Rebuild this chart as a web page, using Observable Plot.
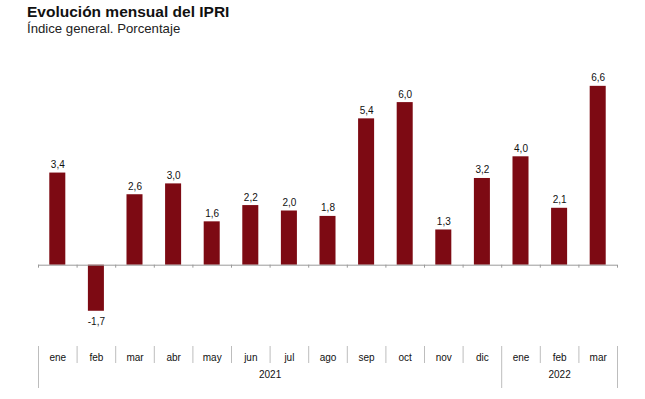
<!DOCTYPE html>
<html>
<head>
<meta charset="utf-8">
<script src="https://cdn.jsdelivr.net/npm/d3@7"></script>
<script src="https://cdn.jsdelivr.net/npm/@observablehq/plot@0.6"></script>
<style>
  html, body { margin: 0; padding: 0; background: #fff; }
  body { width: 645px; height: 399px; overflow: hidden; font-family: "Liberation Sans", Arial, sans-serif; }
  #title { position: absolute; left: 27px; top: 3px; font-size: 15.5px; font-weight: bold; color: #111; line-height: 18px; }
  #subtitle { position: absolute; left: 27px; top: 20px; font-size: 13.2px; color: #222; line-height: 18px; }
  #chart { position: absolute; left: 0; top: 40px; }
</style>
</head>
<body>
<div id="title">Evolución mensual del IPRI</div>
<div id="subtitle">Índice general. Porcentaje</div>
<div id="chart"></div>
<script>
const months = ["ene","feb","mar","abr","may","jun","jul","ago","sep","oct","nov","dic","ene","feb","mar"];
const years  = ["2021","2021","2021","2021","2021","2021","2021","2021","2021","2021","2021","2021","2022","2022","2022"];
const values = [3.4, -1.7, 2.6, 3.0, 1.6, 2.2, 2.0, 1.8, 5.4, 6.0, 1.3, 3.2, 4.0, 2.1, 6.6];
const yearLabels = ["2021", "2022"];

const data = months.map((m, i) => ({key: `${years[i]}-${m}`, month: m, year: years[i], value: values[i]}));
const keys = data.map(d => d.key);
const yearStarts = yearLabels.map(y => keys.find(k => k.startsWith(y)));
const lastKey = keys[keys.length - 1];
// key at the middle of each year group (for even groups the label sits on the band's left edge)
const yearMid = yearLabels.map(y => {
  const ks = keys.filter(k => k.startsWith(y));
  const n = ks.length;
  return {year: y, key: ks[Math.floor(n / 2)], even: n % 2 === 0};
});

const W = 645, H = 359, ML = 38, MR = 28, MT = 35, MB = 53;
const step = (W - ML - MR) / keys.length;
const fmt = v => (v < 0 ? "-" : "") + Math.abs(v).toFixed(1).replace(".", ",");
const red = "#7d0a13";
const grey = "#9a9a9a";
const sep = "#bdbdbd";
const fnt = "Liberation Sans, Arial, sans-serif";

const chart = Plot.plot({
  width: W, height: H,
  marginLeft: ML, marginRight: MR, marginTop: MT, marginBottom: MB,
  style: {fontFamily: fnt, fontSize: "10px", color: "#111", background: "white"},
  x: {domain: keys, paddingInner: 0.585, paddingOuter: 0.2925, round: false, axis: null, label: null},
  y: {domain: [-3, 7], axis: null},
  marks: [
    Plot.barY(data, {x: "key", y: "value", fill: red}),
    Plot.ruleY([0], {stroke: grey, strokeWidth: 1}),
    // small ticks on the zero line at category boundaries
    Plot.ruleX(keys, {x: d => d, y1: 0, y2: -0.11, dx: -step / 2, stroke: grey}),
    Plot.ruleX([lastKey], {x: d => d, y1: 0, y2: -0.11, dx: step / 2, stroke: grey}),
    // value labels
    Plot.text(data.filter(d => d.value >= 0), {x: "key", y: "value", text: d => fmt(d.value), lineAnchor: "bottom", dy: -5, fill: "#111"}),
    Plot.text(data.filter(d => d.value < 0), {x: "key", y: "value", text: d => fmt(d.value), lineAnchor: "top", dy: 7, fill: "#111"}),
    // month separators
    Plot.axisX(keys.filter(k => !yearStarts.includes(k)), {anchor: "bottom", label: null, tickSize: 17, tickFormat: () => "", dx: -step / 2, stroke: sep}),
    // year separators
    Plot.axisX(yearStarts, {anchor: "bottom", label: null, tickSize: 42, tickFormat: () => "", dx: -step / 2, stroke: sep}),
    Plot.axisX([lastKey], {anchor: "bottom", label: null, tickSize: 42, tickFormat: () => "", dx: step / 2, stroke: sep}),
    // month labels
    Plot.text(data, {x: "key", frameAnchor: "bottom", text: "month", lineAnchor: "middle", dy: 11.5, fill: "#111"}),
    // year labels
    Plot.text(yearMid.filter(d => d.even), {x: "key", frameAnchor: "bottom", text: "year", lineAnchor: "middle", dy: 28.5, dx: -step / 2, fill: "#111"}),
    Plot.text(yearMid.filter(d => !d.even), {x: "key", frameAnchor: "bottom", text: "year", lineAnchor: "middle", dy: 28.5, fill: "#111"})
  ]
});
document.getElementById("chart").appendChild(chart);
</script>
</body>
</html>
